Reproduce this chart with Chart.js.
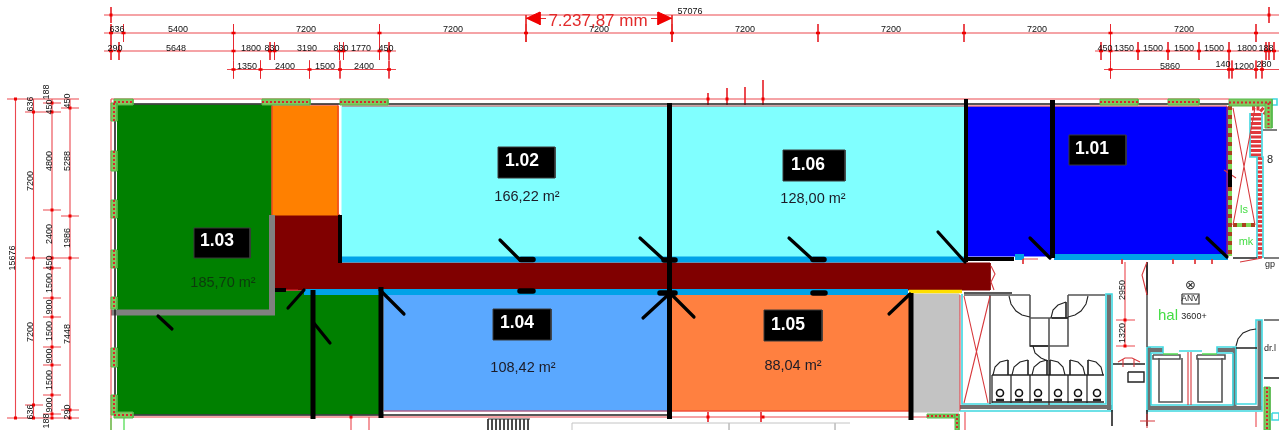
<!DOCTYPE html>
<html>
<head>
<meta charset="utf-8">
<style>
  html, body { margin: 0; padding: 0; background: #fff; overflow: hidden; }
  canvas { display: block; filter: blur(0.35px); }
</style>
<script src="https://cdn.jsdelivr.net/npm/chart.js@4/dist/chart.umd.min.js"></script>
</head>
<body>
<canvas id="plan" width="1279" height="430"></canvas>
<script>
const roomCodes = ['1.01', '1.02', '1.03', '1.04', '1.05', '1.06'];
const roomAreas = ['', '166,22 m²', '185,70 m²', '108,42 m²', '88,04 m²', '128,00 m²'];
const codeBoxes = [[1069, 135, 1126, 165], [498, 147, 555, 178], [194, 228, 250, 258], [493, 309, 551, 340], [764, 310, 822, 341], [783, 150, 845, 181]];
const codeSpots = [[1092, 149], [522, 161], [217, 241], [517, 323], [788, 325], [808, 165]];
const areaSpots = [[0, 0], [527, 197], [223, 283], [523, 368], [793, 366], [813, 199]];

const greenRoom = [[117, 105], [271, 105], [271, 215], [274, 215], [274, 291], [381, 291], [381, 414], [117, 414]];
const redCorridor = [[274, 215], [340, 215], [340, 263], [990, 263], [990, 290], [304, 290], [274, 290]];
const orangeRoom = [272, 106, 338, 215];
const cyanRoom = [342, 106, 965, 257];
const blueRoom = [967, 107, 1227, 256];
const lightBlueRoom = [384, 295, 669, 411];
const salmonRoom = [672, 295, 910, 411];
const greyRoom = [912, 294, 959, 412];

const stripBlue = [[[340, 259.5], [965, 259.5]], [[304, 292], [908, 292]], [[1054, 257], [1228, 257]], [[1015, 257], [1024, 257]]];
const stripYellow = [[[909, 291.5], [962, 291.5]]];
const greyWall = [[[111, 312.5], [272, 312.5], [272, 215]]];
const thickWalls = [[[669.5, 103], [669.5, 419]], [[1052.5, 100], [1052.5, 258]], [[381, 287], [381, 418]], [[313, 290], [313, 419]], [[911, 293], [911, 420]]];
const mediumWalls = [[[966, 99], [966, 262]], [[340, 215], [340, 263]], [[966, 259], [1014, 259]], [[275, 290], [286, 290]], [[1230, 170], [1230, 187]]];
const doorSwings = [[[158, 316], [172, 329]], [[304, 290], [288, 308]], [[313, 322], [330, 343]], [[380, 290], [404, 314]],
  [[500, 240], [520, 260]], [[640, 238], [664, 260]], [[789, 238], [812, 259]], [[643, 318], [668, 295]], [[672, 295], [694, 317]],
  [[938, 232], [965, 262]], [[1030, 238], [1050, 258]], [[1207, 238], [1227, 257]], [[889, 314], [910, 294]]];
const doorStops = [[[521, 259.5], [533, 259.5]], [[664, 260], [675, 260]], [[813, 259.5], [824, 259.5]],
  [[520, 291], [533, 291]], [[660, 293], [675, 293]], [[813, 293], [825, 293]]];

const windowsTop = [[114, 99, 133, 105], [262, 99, 310, 105], [340, 99, 388, 105], [1100, 99, 1138, 105], [1168, 99, 1199, 105], [1229, 99, 1272, 106], [1265, 103, 1272, 128]];
const windowsLeft = [[111, 103, 117, 121], [111, 151, 117, 171], [111, 200, 117, 218], [111, 250, 117, 268], [111, 297, 117, 309], [111, 348, 117, 367], [111, 395, 117, 415]];
const windowsBottom = [[114, 412, 133, 418], [927, 414, 955, 418], [955, 414, 959, 430], [1264, 387, 1270, 430]];

const dimLines = [
  [[104, 15], [1279, 15]], [[104, 33], [1279, 33]], [[104, 51], [396, 51]], [[1095, 51], [1279, 51]], [[227, 69.5], [396, 69.5]], [[1104, 69.5], [1279, 69.5]],
  [[7, 99], [79, 99]], [[15.5, 99], [15.5, 418]], [[33.5, 99], [33.5, 418]], [[52, 99], [52, 418]], [[70, 99], [70, 418]], [[7, 418], [79, 418]],
  [[25, 112], [61, 112]], [[43, 103], [61, 103]], [[25, 258], [79, 258]], [[43, 210], [61, 210]], [[61, 108], [79, 108]], [[61, 216], [79, 216]],
  [[25, 405], [43, 405]], [[43, 414], [61, 414]], [[61, 410], [79, 410]],
  [[43, 268], [61, 268]], [[43, 298], [61, 298]], [[43, 317], [61, 317]], [[43, 347], [61, 347]], [[43, 365], [61, 365]], [[43, 395], [61, 395]],
  [[111, 99], [1229, 99]], [[115, 417], [927, 417]], [[1125, 262], [1125, 347]], [[1116, 320], [1135, 320]], [[1116, 346], [1135, 346]],
  [[700, 99], [736, 99]], [[756, 99], [770, 99]],
  [[111, 99], [111, 430]], [[272, 105], [338, 105]], [[342, 106], [1227, 106]], [[272, 105], [272, 215]], [[338, 105], [338, 215]], [[1227, 106], [1227, 257]],
  [[384, 411], [910, 411]], [[286, 290], [298, 290]], [[965, 412], [965, 430]], [[1256, 412], [1256, 427]], [[351, 417], [351, 430]], [[369, 417], [369, 430]],
  [[1023, 259], [1038, 259]], [[960, 295], [960, 411]]
];
const crossX = [111, 233.5, 526, 672, 818, 964, 1110.5, 1256, 379.5, 123.5];
const crossRow2X = [111, 119, 233.5, 270, 274.5, 339.5, 343.5, 379.5, 389, 1101, 1110.5, 1138, 1168, 1199, 1229, 1266, 1269, 1274];
const crossRow3X = [233.5, 260.5, 309.5, 340, 389, 1110.5, 1229, 1232, 1256, 1262];
const bigArrowTicks = [[[526, 15], [526, 42]], [[672, 15], [672, 42]], [[540, 18.5], [546, 18.5]], [[651, 18.5], [658, 18.5]]];
const bigArrowLeft = [[526, 18.5], [540, 12], [540, 25]];
const bigArrowRight = [[672, 18.5], [658, 12], [658, 25]];
const topStubs = [[[708, 93], [708, 105]], [[727, 88], [727, 105]], [[745, 87], [745, 105]], [[763, 80], [763, 105]], [[708, 412], [708, 422]], [[761, 412], [761, 422]]];
const crossBlobs = [[111, 15], [1269, 15], [15.5, 99], [33.5, 112], [33.5, 258], [33.5, 405], [52, 103], [52, 112], [52, 210], [52, 258], [52, 268], [52, 298], [52, 317], [52, 347], [52, 365], [52, 395], [52, 414], [52, 418],
  [70, 108], [70, 216], [70, 258], [70, 410], [70, 418], [15.5, 418], [33.5, 418], [708, 99], [727, 99], [763, 99], [708, 417], [763, 417], [1125, 320], [1125, 346], [351, 417]];

const dimTextsH = [['57076', 690, 12], ['636', 117, 30], ['5400', 178, 30], ['7200', 306, 30], ['7200', 453, 30], ['7200', 599, 30], ['7200', 745, 30], ['7200', 891, 30], ['7200', 1037, 30], ['7200', 1184, 30],
  ['290', 115, 49], ['5648', 176, 49], ['1800', 251, 49], ['830', 272, 49], ['3190', 307, 49], ['830', 341, 49], ['1770', 361, 49], ['450', 386, 49],
  ['450', 1105, 49], ['1350', 1124, 49], ['1500', 1153, 49], ['1500', 1184, 49], ['1500', 1214, 49], ['1800', 1247, 49], ['188', 1266, 49],
  ['1350', 247, 67], ['2400', 285, 67], ['1500', 325, 67], ['2400', 364, 67], ['5860', 1170, 67], ['140', 1223, 65], ['1200', 1244, 67], ['280', 1264, 65]];
const dimTextsV = [['15676', 13, 258], ['7200', 31, 181], ['7200', 31, 332], ['4800', 50, 161], ['2400', 50, 234], ['5288', 68, 161], ['1986', 68, 238], ['7448', 68, 334],
  ['450', 50, 263], ['1500', 50, 283], ['900', 50, 307], ['1500', 50, 331], ['900', 50, 356], ['1500', 50, 380], ['900', 50, 405],
  ['636', 31, 104], ['636', 31, 412], ['188', 47, 92], ['188', 47, 421], ['450', 50, 107], ['450', 68, 101], ['290', 68, 412], ['2950', 1123, 290], ['1320', 1123, 333]];
const bigDimText = ['7.237,87 mm', 598, 21];
const greenTexts = [['hal', 1168, 316, 15], ['ls', 1244, 210, 11], ['mk', 1246, 242, 11]];
const blackTexts = [['3600+', 1194, 317, 9], ['ANV', 1190, 299, 8.5], ['dr.l', 1270, 349, 9], ['gp', 1270, 265, 9], ['⊗', 1190, 285, 13], ['8', 1270, 160, 11]];
const anvBox = [1182, 294, 1199, 304];

const cyanLines = [[[962, 294], [962, 404], [1106, 404], [1106, 294], [1112, 294], [1112, 411], [960, 411]],
  [[1147, 347], [1147, 411], [1262, 411], [1262, 320], [1256, 320], [1256, 404], [1236, 404], [1236, 347], [1217, 347], [1217, 353], [1233, 353]],
  [[1147, 347], [1163, 347], [1163, 353], [1151, 353], [1151, 405], [1233, 405], [1233, 353]],
  [[1179, 351], [1202, 351]], [[1250, 113], [1250, 157], [1257, 157], [1257, 258]], [[1263, 258], [1263, 157], [1262, 157], [1262, 113]], [[1272, 99], [1277, 99], [1277, 105], [1272, 105], [1272, 99]], [[1272, 413], [1279, 413], [1279, 420], [1272, 420], [1272, 413]]];
const greyBands = [[[960, 407], [1112, 407]], [[1109, 294], [1109, 410]], [[1147, 408], [1262, 408]], [[1259.5, 320], [1259.5, 410]], [[1234.5, 347], [1234.5, 406]],
  [[1148, 350], [1163, 350]], [[1217, 350], [1235, 350]], [[1149, 347], [1149, 410]]];
const thinGreys = [[[964, 295], [1030, 295]], [[1068, 295], [1105, 295]], [[990, 295], [990, 404]], [[964, 295], [1010, 295]], [[1147, 262], [1147, 347]],
  [[1030, 295], [1030, 318]], [[1068, 295], [1068, 318]], [[1030, 318], [1068, 318], [1068, 346], [1030, 346], [1030, 318]], [[1049, 318], [1049, 405]],
  [[992, 375], [992, 403]], [[1011, 375], [1011, 403]], [[1030, 375], [1030, 403]], [[1068, 375], [1068, 403]], [[1087, 375], [1087, 403]],
  [[1159, 358], [1159, 402], [1182, 402], [1182, 358]], [[1198, 358], [1198, 402], [1222, 402], [1222, 358]],
  [[1153, 355], [1180, 355], [1180, 359], [1153, 359], [1153, 355]], [[1197, 355], [1225, 355], [1225, 359], [1197, 359], [1197, 355]],
  [[1264, 258], [1279, 258]], [[1263, 130], [1277, 130]], [[1264, 320], [1279, 320]]];
const paleGreys = [[[572, 430], [572, 423], [850, 423]], [[729, 423], [729, 430]], [[835, 423], [835, 430]]];
const darkBars = [[[992, 375], [1104, 375]], [[992, 402], [1104, 402]], [[1236, 348], [1257, 348]], [[1113, 364], [1145, 364]], [[1233, 258], [1257, 258]],
  [[1030, 346], [1048, 346]], [[1052, 318], [1068, 318]], [[964, 293], [1012, 293]], [[1147, 262], [1147, 295]], [[1264, 378], [1279, 378]], [[1112, 410], [1112, 426]], [[1147, 410], [1147, 426]], [[116, 104], [1229, 104]], [[115, 105], [115, 416]], [[120, 415], [669, 415]], [[1008, 360], [1008, 375]], [[1028, 360], [1028, 375]], [[1047, 360], [1047, 375]], [[1050, 360], [1050, 375]], [[1070, 360], [1070, 375]], [[1088, 360], [1088, 375]], [[1066, 302], [1066, 318]]];
const doorArcs = [[[1009, 296], [1011, 304], [1016, 311], [1022, 315], [1030, 317]], [[1088, 296], [1086, 304], [1081, 311], [1075, 315], [1068, 317]],
  [[1051, 318], [1053, 310], [1058, 305], [1066, 302]], [[1033, 346], [1035, 353], [1041, 358], [1048, 361]],
  [[993, 375], [995, 367], [1000, 362], [1008, 360]], [[1012, 375], [1014, 367], [1020, 362], [1028, 360]], [[1032, 375], [1034, 367], [1040, 362], [1047, 360]],
  [[1065, 375], [1063, 367], [1058, 362], [1050, 360]], [[1085, 375], [1083, 367], [1078, 362], [1070, 360]], [[1103, 375], [1101, 367], [1096, 362], [1088, 360]],
  [[1236, 346], [1238, 339], [1243, 333], [1250, 330], [1256, 329]]];
const toiletSpots = [[1000, 393], [1019, 393], [1038, 393], [1058, 393], [1078, 393], [1097, 393]];
const toiletTanks = [[[996, 400], [1004, 400]], [[1015, 400], [1023, 400]], [[1034, 400], [1042, 400]], [[1054, 400], [1062, 400]], [[1074, 400], [1082, 400]], [[1093, 400], [1101, 400]]];
const redThin = [[[964, 296], [988, 403]], [[990, 296], [964, 403]], [[1188, 352], [1188, 405]], [[1191, 352], [1191, 405]],
  [[1233, 108], [1255, 225]], [[1255, 108], [1233, 225]], [[1147, 262], [1142, 275], [1147, 295]], [[1118, 362], [1125, 358], [1132, 358], [1140, 362]], [[1123, 359], [1123, 367]], [[1134, 359], [1134, 367]],
  [[991, 266], [995, 274], [991, 282], [994, 290]], [[1224, 170], [1236, 178]], [[1240, 262], [1262, 258]], [[1147, 414], [1147, 428]], [[1140, 421], [1155, 421]]];
const greenThin = [[[1163, 354], [1178, 354]], [[1202, 354], [1217, 354]], [[111, 418], [111, 430]], [[124, 418], [124, 430]]];
const shaftDash = [[[1230, 106], [1230, 256]], [[1233, 225], [1255, 225]]];
const shaftRedWide = [[[1256, 113], [1256, 157]]];
const shaftRedThin = [[[1260, 157], [1260, 258]], [[1252, 108], [1260, 108], [1266, 113]]];
const stairTreads = [[[488, 419], [488, 430]], [[492, 419], [492, 430]], [[496, 419], [496, 430]], [[500, 419], [500, 430]], [[504, 419], [504, 430]], [[508, 419], [508, 430]], [[512, 419], [512, 430]], [[516, 419], [516, 430]], [[520, 419], [520, 430]], [[524, 419], [524, 430]], [[528, 419], [528, 430]], [[488, 419], [530, 419]]];
const roomTicks = [[[1023, 259], [1023, 264]], [[1122, 259], [1122, 264]], [[1173, 259], [1173, 264]], [[1195, 259], [1195, 264]], [[1212, 259], [1212, 264]]];
const iconBox = [1128, 372, 1144, 382];

const toPts = pts => pts.map(p => ({ x: p[0], y: p[1] }));
const rectPts = r => [[r[0], r[1]], [r[2], r[1]], [r[2], r[3]], [r[0], r[3]], [r[0], r[1]]];
const joinPaths = paths => {
    const out = [];
    paths.forEach(path => {
        toPts(path).forEach(p => out.push(p));
        out.push({ x: NaN, y: NaN });
    });
    return out;
};
const vTicks = (xs, y, half) => xs.map(x => [[x, y - half], [x, y + half]]);
const hTicks = (spots, half) => spots.map(s => [[s[0] - half, s[1]], [s[0] + half, s[1]]]);
const blobDots = (spots, half) => spots.map(s => [[s[0], s[1] - half], [s[0], s[1] + half]]);

const datasets = [];
const fillPoly = (pts, color, border, width) => {
    datasets.push({ data: toPts(pts), showLine: true, fill: 'shape', backgroundColor: color, borderColor: border || color, borderWidth: width === undefined ? 1 : width, pointRadius: 0, tension: 0, clip: false });
};
const strokes = (paths, color, width, extra) => {
    datasets.push(Object.assign({ data: joinPaths(paths), showLine: true, fill: false, borderColor: color, borderWidth: width, pointRadius: 0, tension: 0, clip: false }, extra || {}));
};

// rooms first, then the thick bits over them
fillPoly(greenRoom, '#008000');
fillPoly(redCorridor, '#800000');
fillPoly(rectPts(orangeRoom), '#ff8000');
fillPoly(rectPts(cyanRoom), '#80ffff');
fillPoly(rectPts(blueRoom), '#0000ff');
fillPoly(rectPts(lightBlueRoom), '#5aa8ff');
fillPoly(rectPts(salmonRoom), '#ff8040');
fillPoly(rectPts(greyRoom), '#c3c3c3');

strokes(stripBlue, '#00a2e8', 6);
strokes(stripYellow, '#ffdf00', 3.5);
strokes(greyBands, '#707070', 4);
strokes(greyWall, '#808080', 6);

// dimension lines
strokes(dimLines, 'rgba(232,40,48,.85)', 1.1);
strokes(vTicks(crossX, 33, 9), 'rgba(232,40,48,.9)', 1);
strokes(vTicks(crossRow2X, 51, 9), 'rgba(232,40,48,.9)', 1);
strokes(vTicks(crossRow3X, 69.5, 9), 'rgba(232,40,48,.9)', 1);
strokes(vTicks([111, 1269], 15, 8), 'rgba(232,40,48,.9)', 1);
strokes(bigArrowTicks, '#e63030', 1);
strokes(topStubs, 'rgba(232,40,48,.9)', 1);
strokes(hTicks(crossX.map(x => [x, 33]).concat(crossRow2X.map(x => [x, 51])).concat(crossRow3X.map(x => [x, 69.5])), 2), '#f00000', 2.5);
strokes(blobDots(crossBlobs, 1.5), '#f00000', 3);
fillPoly(bigArrowLeft, '#f00000');
fillPoly(bigArrowRight, '#f00000');

// right hand core
strokes(shaftDash, '#7ed957', 4);
strokes(shaftDash, '#a8401e', 4, { borderDash: [4, 5] });
strokes(shaftRedWide, '#e0383c', 11, { borderDash: [3, 1.5] });
strokes(shaftRedThin, '#e0383c', 5, { borderDash: [3, 1.5] });
strokes(cyanLines, '#3fd8e0', 1.6);
strokes(thinGreys, '#555', 1.6);
strokes(paleGreys, '#c4c4c4', 1);
strokes(darkBars, '#222', 1.6);
strokes(doorArcs, '#222', 1.1);
strokes(stairTreads, '#333', 1);
strokes(toiletTanks, '#222', 2.5);
strokes(roomTicks, '#e0383c', 1);
strokes(redThin, '#d8383c', 1.1);
strokes(greenThin, '#55dd55', 1.3);
fillPoly(rectPts(iconBox), '#fff', '#222', 1.4);
fillPoly(rectPts(anvBox), '#fff', '#333', 1.2);
datasets.push({ data: toPts(toiletSpots), showLine: false, pointRadius: 3.5, pointBackgroundColor: '#fff', pointBorderColor: '#111', pointBorderWidth: 1.6, clip: false });

// window hatching sits over the outer wall lines
windowsTop.concat(windowsLeft).concat(windowsBottom).forEach(r => fillPoly(rectPts(r), '#7ec95e', '#55b84a', 1));
const hatchLines = windowsTop.concat(windowsBottom).filter(r => r[2] - r[0] > r[3] - r[1]).map(r => [[r[0], (r[1] + r[3]) / 2], [r[2], (r[1] + r[3]) / 2]])
    .concat(windowsLeft.concat(windowsTop.concat(windowsBottom).filter(r => r[2] - r[0] <= r[3] - r[1])).map(r => [[(r[0] + r[2]) / 2, r[1]], [(r[0] + r[2]) / 2, r[3]]]));
strokes(hatchLines, '#d8262c', 2, { borderDash: [2, 2] });

strokes(thickWalls, '#000', 5);
strokes(mediumWalls, '#000', 4);
strokes(doorSwings, '#000', 3.2, { borderCapStyle: 'round' });
strokes(doorStops, '#000', 5.5, { borderCapStyle: 'round' });

codeBoxes.forEach(b => fillPoly(rectPts(b), '#000', '#3a3a3a', 1));

datasets.forEach((d, i) => { d.order = -i; });

const planTexts = {
    id: 'planTexts',
    afterDatasetsDraw(chart) {
        const { ctx, scales } = chart;
        const put = (text, x, y, font, color, rotated) => {
            ctx.save();
            ctx.translate(scales.x.getPixelForValue(x), scales.y.getPixelForValue(y));
            if (rotated) ctx.rotate(-Math.PI / 2);
            ctx.font = font;
            ctx.fillStyle = color;
            ctx.textAlign = 'center';
            ctx.textBaseline = 'middle';
            ctx.fillText(text, 0, 0);
            ctx.restore();
        };
        roomCodes.forEach((code, i) => {
            put(code, codeSpots[i][0], codeSpots[i][1], 'bold 17.5px "Liberation Sans"', '#fff');
            if (roomAreas[i]) {
                put(roomAreas[i], areaSpots[i][0], areaSpots[i][1], '14.5px "Liberation Sans"', i === 2 ? '#0c3a0c' : '#1c1c28');
            }
        });
        dimTextsH.forEach(t => put(t[0], t[1], t[2], '9px "Liberation Sans"', '#111'));
        dimTextsV.forEach(t => put(t[0], t[1], t[2], '9px "Liberation Sans"', '#111', true));
        put(bigDimText[0], bigDimText[1], bigDimText[2], '17px "Liberation Sans"', '#e22a2a');
        greenTexts.forEach(t => put(t[0], t[1], t[2], t[3] + 'px "Liberation Sans"', '#44dd44'));
        blackTexts.forEach(t => put(t[0], t[1], t[2], t[3] + 'px "Liberation Sans"', '#222'));
    }
};

new Chart(document.getElementById('plan'), {
    type: 'scatter',
    data: { datasets },
    options: {
        responsive: false,
        devicePixelRatio: 1,
        animation: false,
        events: [],
        layout: { padding: 0, autoPadding: false },
        spanGaps: false,
        scales: {
            x: { type: 'linear', min: 0, max: 1279, display: false },
            y: { type: 'linear', min: 0, max: 430, reverse: true, display: false },
        },
        plugins: { legend: { display: false }, tooltip: { enabled: false }, title: { display: false } },
    },
    plugins: [planTexts],
});
</script>
</body>
</html>
